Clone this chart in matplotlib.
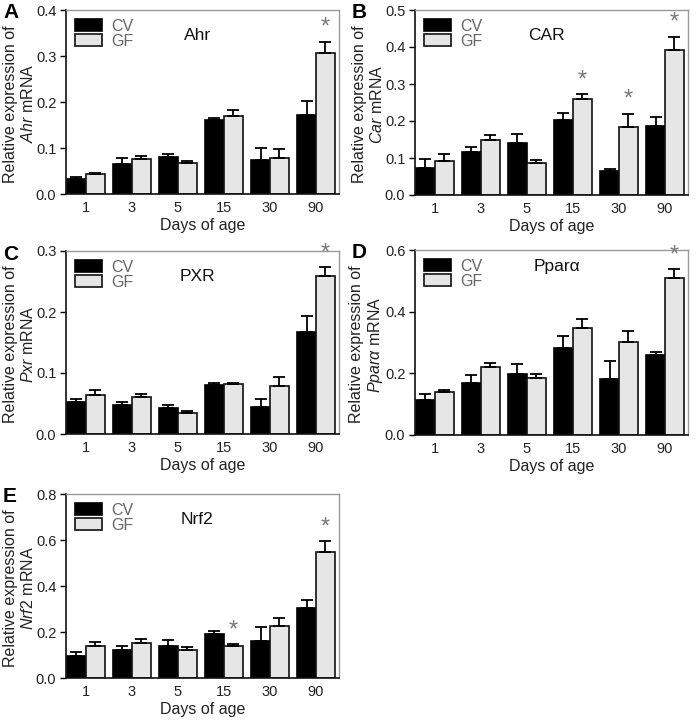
import matplotlib
matplotlib.use("Agg")
import matplotlib.pyplot as plt
import numpy as np

plt.rcParams['font.family'] = ['Liberation Sans', 'DejaVu Sans']
plt.rcParams['mathtext.fontset'] = 'custom'
plt.rcParams['mathtext.it'] = 'Liberation Sans:italic'
plt.rcParams['mathtext.rm'] = 'Liberation Sans'

days = ["1", "3", "5", "15", "30", "90"]

# Ahr
ahr_cv = [0.033, 0.066, 0.080, 0.161, 0.075, 0.171]
ahr_cv_err = [0.005, 0.012, 0.008, 0.004, 0.025, 0.032]
ahr_gf = [0.044, 0.076, 0.067, 0.170, 0.079, 0.306]
ahr_gf_err = [0.002, 0.007, 0.005, 0.013, 0.018, 0.025]
ahr_star = [5]

# CAR
car_cv = [0.073, 0.117, 0.140, 0.204, 0.064, 0.186]
car_cv_err = [0.024, 0.014, 0.024, 0.018, 0.006, 0.025]
car_gf = [0.093, 0.149, 0.087, 0.259, 0.185, 0.392]
car_gf_err = [0.018, 0.012, 0.008, 0.014, 0.035, 0.036]
car_star = [3, 4, 5]

# PXR
pxr_cv = [0.052, 0.048, 0.043, 0.081, 0.045, 0.167]
pxr_cv_err = [0.006, 0.005, 0.004, 0.003, 0.013, 0.027]
pxr_gf = [0.064, 0.060, 0.034, 0.082, 0.078, 0.259]
pxr_gf_err = [0.008, 0.005, 0.004, 0.002, 0.016, 0.014]
pxr_star = [5]

# Ppara
ppar_cv = [0.113, 0.169, 0.197, 0.283, 0.182, 0.259]
ppar_cv_err = [0.020, 0.024, 0.034, 0.038, 0.059, 0.010]
ppar_gf = [0.141, 0.220, 0.185, 0.348, 0.302, 0.510]
ppar_gf_err = [0.006, 0.015, 0.013, 0.029, 0.034, 0.027]
ppar_star = [5]

# Nrf2
nrf_cv = [0.097, 0.122, 0.141, 0.190, 0.159, 0.305]
nrf_cv_err = [0.014, 0.019, 0.023, 0.013, 0.064, 0.036]
nrf_gf = [0.140, 0.151, 0.120, 0.141, 0.225, 0.550]
nrf_gf_err = [0.016, 0.018, 0.013, 0.007, 0.037, 0.045]
nrf_star = [3, 5]

panels = [
    ("A", "Ahr", "Ahr", ahr_cv, ahr_cv_err, ahr_gf, ahr_gf_err, ahr_star, 0.4, 0.1, [66, 10, 273, 184]),
    ("B", "CAR", "Car", car_cv, car_cv_err, car_gf, car_gf_err, car_star, 0.5, 0.1, [415, 10, 273, 185]),
    ("C", "PXR", "Pxr", pxr_cv, pxr_cv_err, pxr_gf, pxr_gf_err, pxr_star, 0.3, 0.1, [66, 251, 273, 183]),
    ("D", "Ppar\u03b1", r"Ppar\alpha", ppar_cv, ppar_cv_err, ppar_gf, ppar_gf_err, ppar_star, 0.6, 0.2, [415, 250, 273, 185]),
    ("E", "Nrf2", "Nrf2", nrf_cv, nrf_cv_err, nrf_gf, nrf_gf_err, nrf_star, 0.8, 0.2, [66, 494, 273, 184]),
]

W, H = 696, 720
fig = plt.figure(figsize=(W / 100, H / 100), dpi=100)
txt = "#222222"
w = 0.41
x = np.arange(len(days))

for letter, title, gene, cv, cv_e, gf, gf_e, stars, ymax, step, box in panels:
    l, t, bw, bh = box
    ax = fig.add_axes([l / W, 1 - (t + bh) / H, bw / W, bh / H])
    ekw = dict(elinewidth=1.3, capthick=1.3, ecolor="black")
    ax.bar(x - w / 2, cv, w, color="black", edgecolor="black", linewidth=1.2,
           yerr=[np.zeros(6), cv_e], capsize=4, error_kw=ekw, label="CV")
    ax.bar(x + w / 2, gf, w, color="#e6e6e6", edgecolor="#111111", linewidth=1.2,
           yerr=[np.zeros(6), gf_e], capsize=4, error_kw=ekw, label="GF")
    for i in stars:
        ax.text(x[i] + w / 2, gf[i] + gf_e[i] + ymax * 0.015, "*", ha="center", va="bottom",
                fontsize=17, color="#777777")
    ax.set_xlim(-0.43, 5.5)
    ax.set_ylim(0, ymax)
    ticks = np.arange(0, ymax + 1e-9, step)
    ax.set_yticks(ticks)
    ax.set_yticklabels([f"{v:.1f}" for v in ticks])
    ax.set_xticks(x)
    ax.set_xticklabels(days)
    ax.tick_params(axis="x", length=0, pad=5, labelsize=10.5, labelcolor=txt)
    ax.tick_params(axis="y", length=4, width=1, direction="out", labelsize=10.5,
                   colors="black", labelcolor=txt, pad=3)
    for s in ["left", "bottom"]:
        ax.spines[s].set_color("#111111")
        ax.spines[s].set_linewidth(1.2)
    for s in ["top", "right"]:
        ax.spines[s].set_color("#999999")
        ax.spines[s].set_linewidth(1.0)
    ax.set_xlabel("Days of age", fontsize=11.5, color=txt, labelpad=2)
    ax.set_ylabel("Relative expression of\n$\\it{" + gene + "}$ mRNA", fontsize=11.5,
                  color=txt, linespacing=1.15)
    ax.yaxis.set_label_coords(-0.11, 0.49)
    ty = 0.91 if letter == "D" else 0.86
    tx = 0.52 if letter == "D" else 0.48
    ax.text(tx, ty, title, transform=ax.transAxes, ha="center", va="center",
            fontsize=12.5, color="#111111")
    leg = ax.legend(loc="upper left", frameon=False, fontsize=11.5, handlelength=1.7,
                    handleheight=0.75, labelspacing=0.0, borderaxespad=0.25,
                    handletextpad=0.6, borderpad=0.3)
    for tt in leg.get_texts():
        tt.set_color("#666666")
    fig.text((l - 63) / W, 1 - (t + 3) / H, letter, fontsize=15, fontweight="bold",
             ha="left", va="center", color="black")

fig.savefig("out.png", dpi=100)
